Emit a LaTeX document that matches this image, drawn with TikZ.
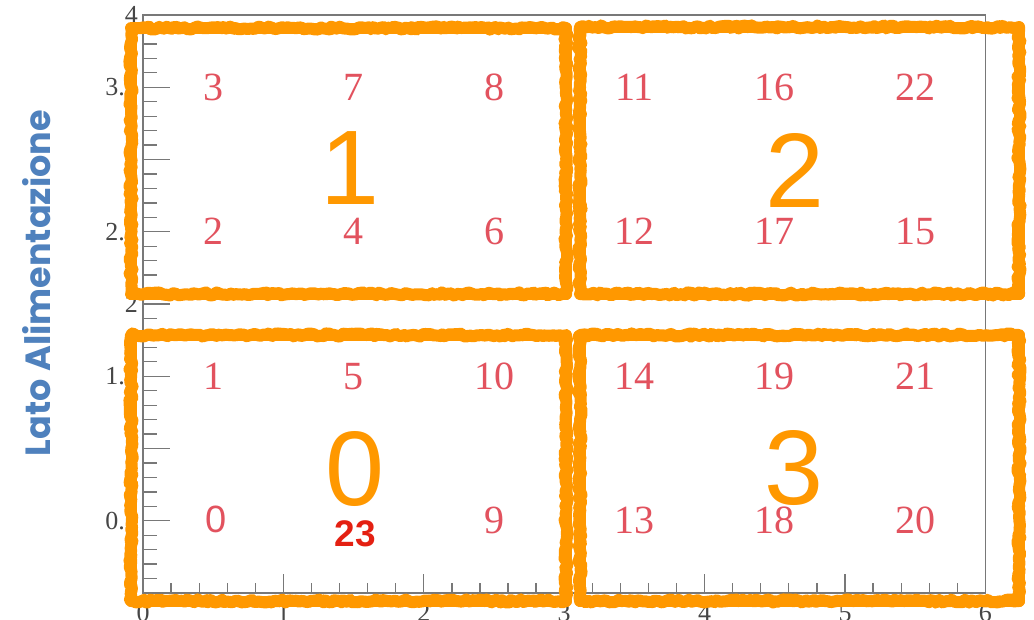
\documentclass[tikz,border=0pt]{standalone}
\usepackage{fontspec}
\setmainfont{Liberation Serif}
\newfontfamily\sansf{Liberation Sans}
\newfontfamily\labf{Poppins}
\usetikzlibrary{decorations.pathmorphing}
\definecolor{orng}{RGB}{255,152,0}
\definecolor{cellred}{RGB}{226,82,94}
\definecolor{hotred}{RGB}{228,32,18}
\definecolor{labblue}{RGB}{79,129,189}
\definecolor{axgray}{RGB}{120,120,120}
\definecolor{axtext}{RGB}{70,70,70}
\begin{document}
\begin{tikzpicture}[x=1pt,y=-1pt,
  cell/.style={text=cellred, font=\fontsize{40}{40}\selectfont, inner sep=0pt},
  big/.style={text=orng, font=\sansf\fontsize{106}{106}\selectfont, inner sep=0pt},
  sketch/.style={draw=orng, line width=12pt, line join=round, decorate,
     decoration={random steps, segment length=3pt, amplitude=1.6pt}},
  sketchcore/.style={draw=orng, line width=11pt, line join=round},
  axlab/.style={text=axtext, font=\fontsize{26}{26}\selectfont, inner sep=0pt},
  tick/.style={draw=axgray, line width=1.3pt}
]
\useasboundingbox[fill=white] (0,0) rectangle (1034,619);

% ---- plot area in data units ----
\begin{scope}[shift={(143,593)}, x=140.4pt, y=144.5pt]
  \draw[axgray, line width=1.6pt] (0,0) rectangle (6,4);
  \foreach \i in {1,...,39} \draw[tick] (0,\i/10) -- ++(14pt,0);
  \foreach \v in {0.5,1,...,3.5} \draw[tick] (0,\v) -- ++(27pt,0);
  \foreach \i in {1,...,29} \draw[tick] (\i/5,0) -- ++(0,10pt);
  \foreach \u in {1,...,5} \draw[tick] (\u,0) -- ++(0,19pt);
  % axis labels
  \foreach \v/\t [count=\k] in {0.5/0.5,1/1,1.5/1.5,2/2,2.5/2.5,3/3,3.5/3.5,4/4}
    \node[axlab, anchor=east] (yl\k) at ([xshift=-5pt]0,\v) {\t};
  \foreach \u [count=\k] in {0,...,6}
    \node[axlab, anchor=north] (xl\k) at ([yshift=-11pt]\u,0) {\u};

  % cell numbers
  \node[cell] (c3)  at (0.5,3.5) {3};
  \node[cell] (c7)  at (1.5,3.5) {7};
  \node[cell] (c8)  at (2.5,3.5) {8};
  \node[cell] (c11) at (3.5,3.5) {11};
  \node[cell] (c16) at (4.5,3.5) {16};
  \node[cell] (c22) at (5.5,3.5) {22};
  \node[cell] (c2)  at (0.5,2.5) {2};
  \node[cell] (c4)  at (1.5,2.5) {4};
  \node[cell] (c6)  at (2.5,2.5) {6};
  \node[cell] (c12) at (3.5,2.5) {12};
  \node[cell] (c17) at (4.5,2.5) {17};
  \node[cell] (c15) at (5.5,2.5) {15};
  \node[cell] (c1)  at (0.5,1.5) {1};
  \node[cell] (c5)  at (1.5,1.5) {5};
  \node[cell] (c10) at (2.5,1.5) {10};
  \node[cell] (c14) at (3.5,1.5) {14};
  \node[cell] (c19) at (4.5,1.5) {19};
  \node[cell] (c21) at (5.5,1.5) {21};
  \node[cell, font=\sansf\fontsize{38}{38}\selectfont] (c0) at (0.52,0.51) {0};
  \node[cell] (c9)  at (2.5,0.5) {9};
  \node[cell] (c13) at (3.5,0.5) {13};
  \node[cell] (c18) at (4.5,0.5) {18};
  \node[cell] (c20) at (5.5,0.5) {20};
  \node[text=hotred, font=\sansf\bfseries\fontsize{37}{37}\selectfont, inner sep=0pt] (c23) at (1.51,0.41) {23};
\end{scope}

% ---- hand drawn orange boxes ----
\foreach \a/\b/\c/\d/\n in {131/28/566/294/b1, 580/27/1019/294/b2, 131/335/566/601/b0, 580/335/1019/601/b3}{
  \draw[sketchcore] (\a,\b) rectangle (\c,\d);
  \draw[sketch] (\a,\b) rectangle (\c,\d);
}

% ---- big sector numbers ----
\node[big] (s1) at (350,168) {1};
\node[big] (s2) at (795,170) {2};
\node[big] (s0) at (355,469) {0};
\node[big] (s3) at (794,468) {3};

% ---- side label ----
\node[rotate=90, text=labblue, font=\labf\bfseries\fontsize{35}{35}\selectfont, inner sep=0pt] (lab) at (37,283) {Lato Alimentazione};
\end{tikzpicture}
\end{document}
